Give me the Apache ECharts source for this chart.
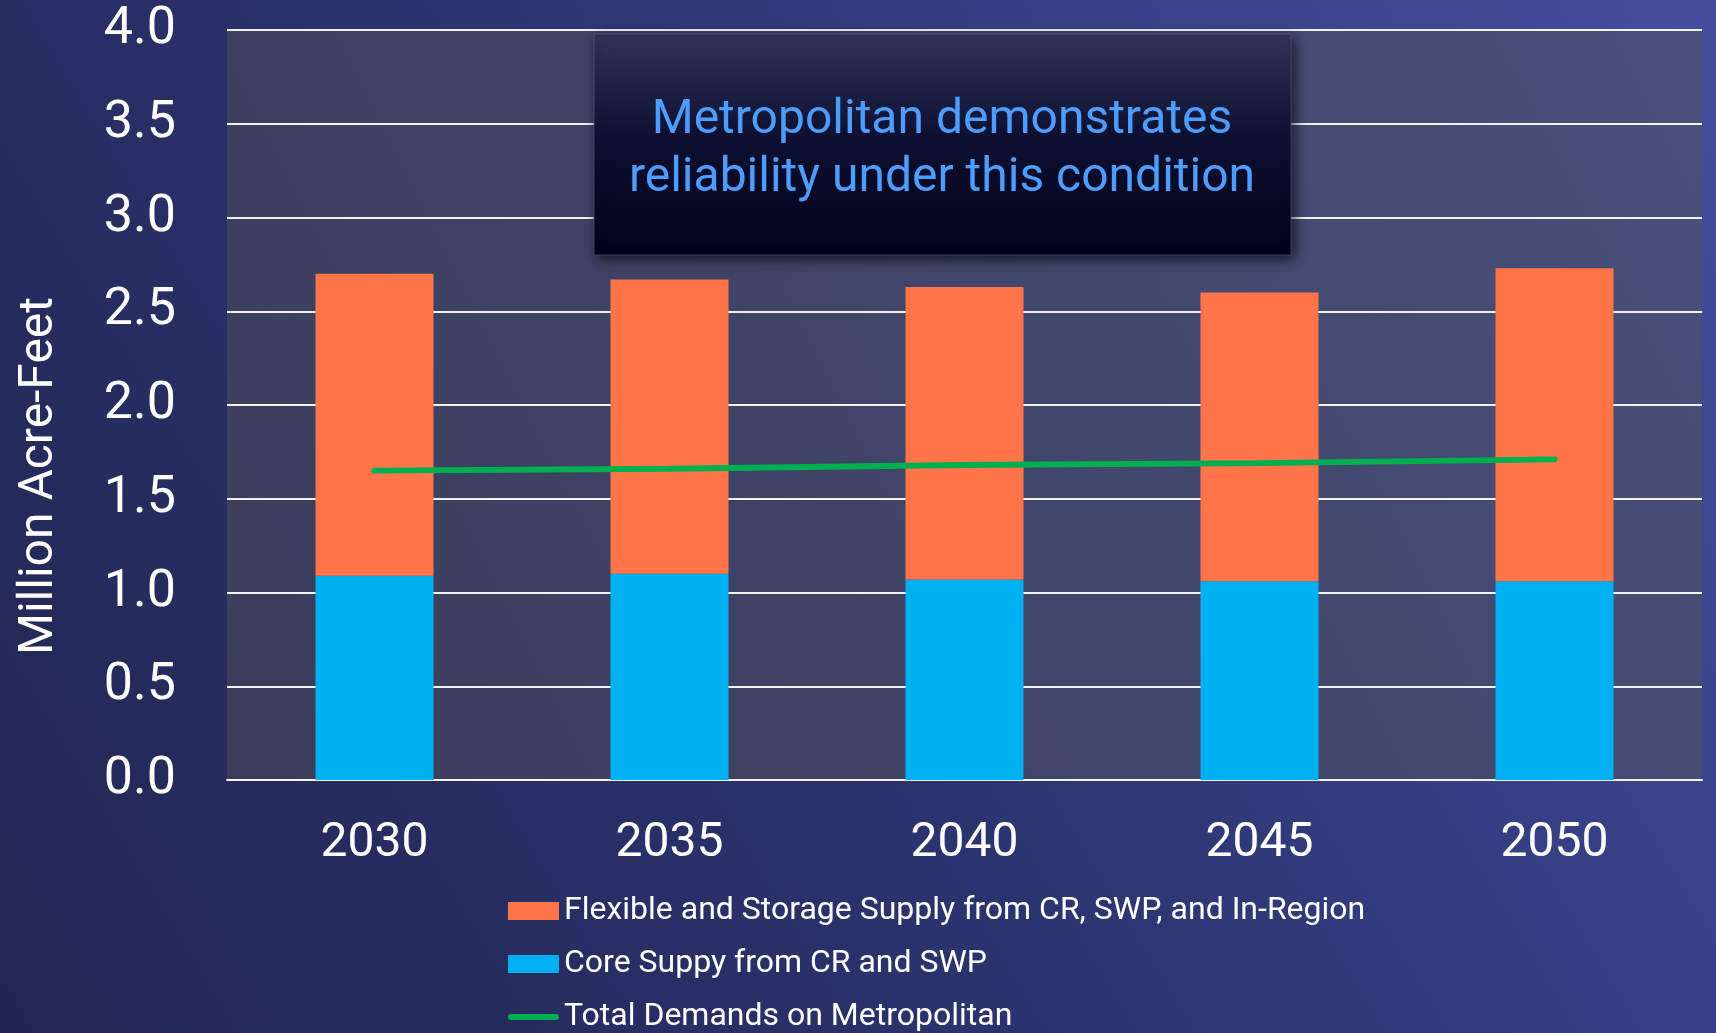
<!DOCTYPE html>
<html>
<head>
<meta charset="utf-8">
<script src="https://cdn.jsdelivr.net/npm/echarts@6/dist/echarts.min.js"></script>
<style>
    html, body {margin: 0; padding: 0; width: 1716px; height: 1033px; overflow: hidden;}
    #chart {width: 1716px; height: 1033px;}
</style>
</head>
<body>
<div id="chart"></div>
<script>
var years = ['2030', '2035', '2040', '2045', '2050'];
var coreSupply = [1.09, 1.10, 1.07, 1.06, 1.06];
var flexSupply = [1.61, 1.57, 1.56, 1.54, 1.67];
var totalDemand = [1.65, 1.66, 1.68, 1.69, 1.71];

var flexName = 'Flexible and Storage Supply from CR, SWP, and In-Region';
var coreName = 'Core Suppy from CR and SWP';
var demandName = 'Total Demands on Metropolitan';

var myChart = echarts.init(document.getElementById('chart'));
var option = {
    // page background, darker at bottom-left, lighter towards top-right
    backgroundColor: new echarts.graphic.LinearGradient(0, 1, 1, 0, [
        {offset: 0, color: '#212651'},
        {offset: 0.5, color: '#2d3572'},
        {offset: 1, color: '#444e9d'}
    ]),
    textStyle: {fontFamily: 'Roboto'},
    grid: {
        left: 227, right: 14, top: 30, bottom: 253,
        show: true,
        borderWidth: 0,
        backgroundColor: new echarts.graphic.LinearGradient(0, 1, 1, 0, [
            {offset: 0, color: '#3a3e5a'},
            {offset: 0.5, color: '#40456a'},
            {offset: 1, color: '#4a507a'}
        ])
    },
    legend: {
        orient: 'vertical',
        left: 508,
        top: 895,
        height: 200,
        padding: 0,
        itemWidth: 51,
        itemHeight: 18,
        itemGap: 21,
        textStyle: {color: '#fff', fontSize: 32, fontFamily: 'Roboto'},
        data: [
            {name: flexName, icon: 'rect'},
            {name: coreName, icon: 'rect'},
            {name: demandName, icon: 'path://M3,0L48,0A3,3,0,0,1,48,6L3,6A3,3,0,0,1,3,0Z'}
        ]
    },
    xAxis: {
        type: 'category',
        data: years,
        axisLine: {lineStyle: {color: '#f2f2f2', width: 2}},
        axisTick: {show: false},
        axisLabel: {color: '#fff', fontSize: 48, margin: 40}
    },
    yAxis: {
        type: 'value',
        min: 0, max: 4, interval: 0.5,
        name: 'Million Acre-Feet',
        nameLocation: 'middle',
        nameGap: 163,
        nameTextStyle: {color: '#fff', fontSize: 48, padding: [0, 142, 0, 0]},
        axisLine: {show: false},
        axisTick: {show: false},
        axisLabel: {
            color: '#fff', fontSize: 52, margin: 51,
            formatter: function (v) { return v.toFixed(1); }
        },
        splitLine: {lineStyle: {color: '#f2f2f2', width: 2}}
    },
    series: [
        {
            name: coreName, type: 'bar', stack: 'supply', barWidth: '40%',
            itemStyle: {color: '#00b0f0'},
            data: coreSupply
        },
        {
            name: flexName, type: 'bar', stack: 'supply', barWidth: '40%',
            itemStyle: {color: '#ff7449'},
            data: flexSupply
        },
        {
            name: demandName, type: 'line', symbol: 'none', z: 5,
            itemStyle: {color: '#00b050'},
            lineStyle: {color: '#00b050', width: 6, cap: 'round'},
            data: totalDemand
        }
    ],
    graphic: [
        {
            type: 'rect', x: 594, y: 34, z: 100,
            shape: {width: 697, height: 221},
            style: {
                fill: new echarts.graphic.LinearGradient(0, 0, 0, 1, [
                    {offset: 0, color: '#30355a'},
                    {offset: 0.45, color: '#0e1131'},
                    {offset: 1, color: '#01011a'}
                ]),
                stroke: 'rgba(90,95,130,0.6)',
                lineWidth: 1,
                shadowBlur: 12,
                shadowOffsetX: 3,
                shadowOffsetY: 4,
                shadowColor: 'rgba(0,0,10,0.7)'
            }
        },
        {
            type: 'text', x: 942, y: 150, z: 101,
            style: {
                text: 'Metropolitan demonstrates\nreliability under this condition',
                fill: '#4d9dff',
                font: '48px Roboto',
                align: 'center',
                verticalAlign: 'middle',
                lineHeight: 58
            }
        }
    ]
};
myChart.setOption(option);
</script>
</body>
</html>
